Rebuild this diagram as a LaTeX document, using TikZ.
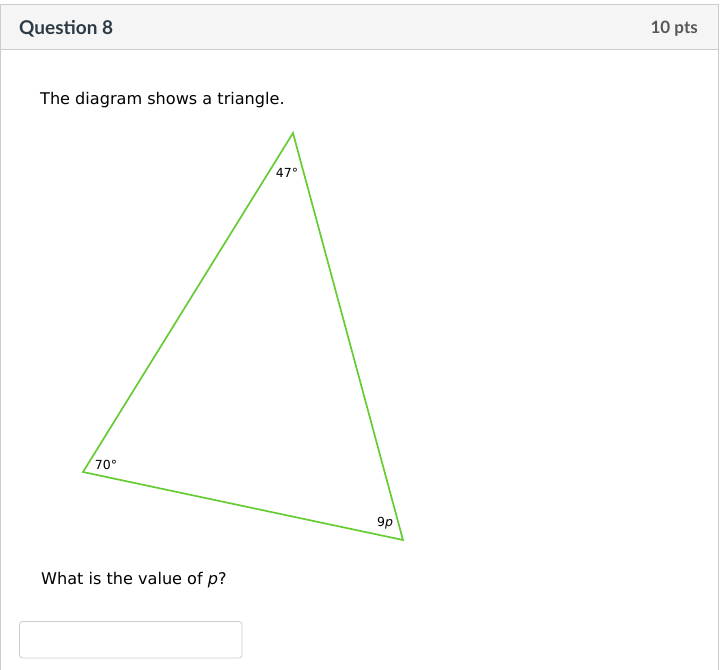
\documentclass[tikz,border=0pt]{standalone}
\usepackage{fontspec}
\setmainfont{DejaVu Sans}
\newfontfamily\hdrfont{Lato}
\definecolor{tri}{HTML}{66CC33}
\definecolor{hdrbg}{HTML}{F5F5F5}
\definecolor{bordergray}{HTML}{C7CDD1}
\definecolor{txt}{HTML}{2D3B45}
\begin{document}
\begin{tikzpicture}[x=1pt,y=-1pt,
  body/.style={anchor=base west,inner sep=0pt,font=\fontsize{16.1}{18}\selectfont,text=black},
  anglab/.style={inner sep=0pt,font=\fontsize{12.5}{14}\selectfont,text=black},
  tri/.style={draw=tri,line width=1.7pt,line join=miter}]
\useasboundingbox (0,0) rectangle (721,670);
\fill[white] (0,0) rectangle (721,670);
% outer panel
\filldraw[fill=hdrbg,draw=bordergray,line width=0.8pt] (0.5,4) rectangle (718,49.5);
\draw[bordergray,line width=0.8pt] (0.5,49.5) -- (0.5,672) (718,49.5) -- (718,672);
\node[anchor=base west,inner sep=0pt,font=\hdrfont\bfseries\fontsize{19}{21}\selectfont,text=txt] (q) at (19,34) {Question 8};
\node[anchor=base east,inner sep=0pt,font=\hdrfont\bfseries\fontsize{17}{20}\selectfont,text=black!65] (pts) at (698,33.5) {10 pts};
% text
\node[body] (t1) at (40,104) {The diagram shows a triangle.};
% triangle
\coordinate (A) at (293,133);
\coordinate (B) at (83,472);
\coordinate (C) at (403,540);
\draw[tri] (A) -- (B) -- (C) -- cycle;
\node[anglab] (a47) at (287,173) {47°};
\node[anglab] (a70) at (106,465) {70°};
\node[anglab] (a9p) at (385,523) {9\textit{p}};
% question
\node[body] (t2) at (41,584) {What is the value of \textit{p}?};
% input box
\draw[bordergray,line width=0.8pt,rounded corners=3pt,fill=white] (19.5,621.5) rectangle (242,658) node[pos=0.5,inner sep=0pt] (box) {};
\end{tikzpicture}
\end{document}
